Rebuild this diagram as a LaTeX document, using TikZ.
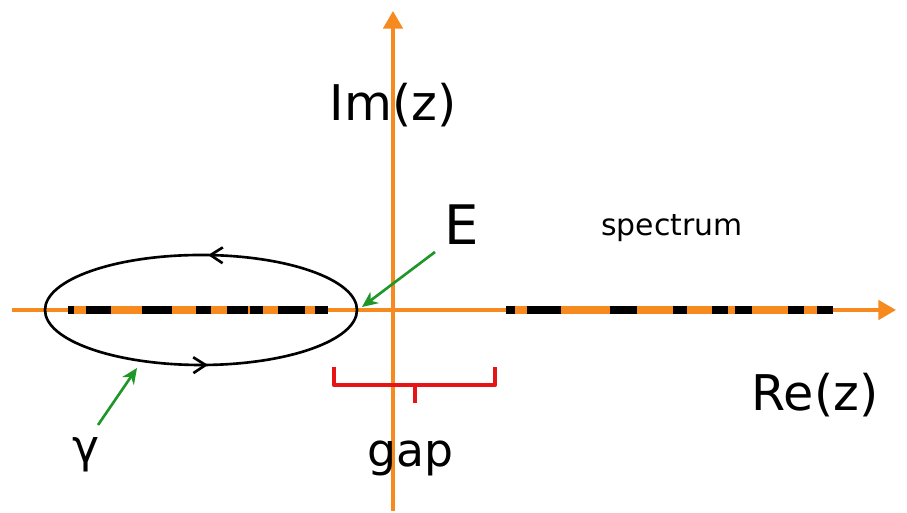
\documentclass[tikz,border=0pt]{standalone}
\usepackage{fontspec}
\setmainfont{DejaVu Sans}
\usepackage{xcolor}
\usetikzlibrary{arrows.meta,decorations.markings}

\definecolor{axisorange}{RGB}{246,138,30}
\definecolor{arrowgreen}{RGB}{30,150,40}
\definecolor{gapred}{RGB}{230,20,20}

\begin{document}
\begin{tikzpicture}[x=0.02cm,y=0.02cm]
            \useasboundingbox (0,0) rectangle (907,513);

            % Draw axes
            \draw[axisorange, line width=2pt, -{Triangle[length=10pt,width=11pt]}] (12,203) -- (896,203);
            \draw[axisorange, line width=2pt, -{Triangle[length=10pt,width=11pt]}] (393,2) -- (393,502);

            % Draw spectrum bands
            \draw[axisorange, line width=4.3pt] (68,203) -- (328,203);
            \draw[axisorange, line width=4.3pt] (506,203) -- (833,203);
            \foreach \a/\b in {68/74, 86/111, 142/172, 196/211, 227/248, 250/263, 278/305, 315/328,
                               506/515, 527/561, 610/637, 673/687, 712/728, 735/752, 788/804, 817/833} {
              \draw[black, line width=4.3pt] (\a,203) -- (\b,203);
            }

            % Draw contour gamma
            \draw[black, line width=1.5pt,
                  postaction={decorate},
                  decoration={markings,
                    mark=at position 0.24 with {\arrow{Straight Barb[length=7pt,width=9pt]}},
                    mark=at position 0.76 with {\arrow{Straight Barb[length=7pt,width=9pt]}}}]
              (201,203) ellipse [x radius=156, y radius=55];

            % Add labels
            \node[font=\fontsize{28}{30}\selectfont] (im) at (393,408) {Im(z)};
            \node[font=\fontsize{31}{33}\selectfont] (E) at (462,288) {E};
            \node[font=\fontsize{17}{19}\selectfont] (spec) at (672,285) {spectrum};
            \node[font=\fontsize{28}{30}\selectfont] (re) at (815,118) {Re(z)};
            \node[font=\fontsize{26}{28}\selectfont] (gap) at (410,55) {gap};
            \node[font=\fontsize{26}{28}\selectfont] (gamma) at (86,58) {γ};

            % Add green pointers
            \coordinate (Efrom) at (435,261);
            \coordinate (Eto) at (362,206);
            \coordinate (gfrom) at (98,88);
            \coordinate (gto) at (137,145);
            \draw[arrowgreen, line width=1.5pt, -{Stealth[length=9pt,width=8pt]}] (Efrom) -- (Eto);
            \draw[arrowgreen, line width=1.5pt, -{Stealth[length=9pt,width=8pt]}] (gfrom) -- (gto);

            % Add gap bracket
            \draw[gapred, line width=2.6pt, line join=round] (334,146) -- (334,128) -- (495,128) -- (495,146);
            \draw[gapred, line width=2.6pt] (415,128) -- (415,110);
        \end{tikzpicture}
\end{document}
